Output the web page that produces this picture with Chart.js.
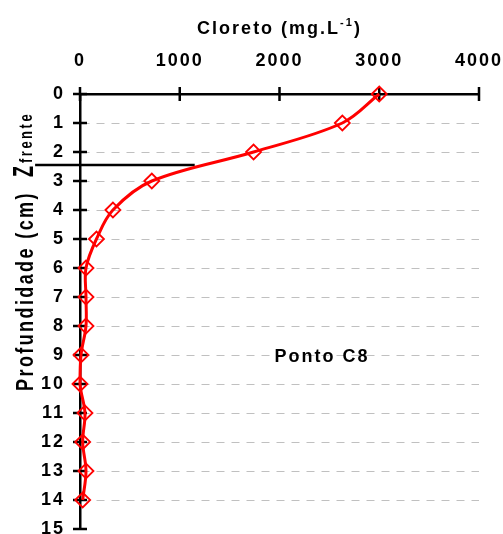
<!DOCTYPE html>
<html>
<head>
<meta charset="utf-8">
<script src="https://cdn.jsdelivr.net/npm/chart.js@4.4.1/dist/chart.umd.min.js"></script>
<style>
  html, body { margin: 0; padding: 0; background: #fff; }
  #chart { display: block; }
</style>
</head>
<body>
<canvas id="chart" width="503" height="534"></canvas>
<script>
// depth profile (cm) and chloride concentration (mg/L)
const depths = [0, 1, 2, 3, 4, 5, 6, 7, 8, 9, 10, 11, 12, 13, 14];
const chloride = [3000, 2630, 1740, 720, 330, 165, 60, 60, 60, 10, 0, 50, 27, 60, 27];

const xTickValues = [0, 1000, 2000, 3000, 4000];
const yTickValues = [0, 1, 2, 3, 4, 5, 6, 7, 8, 9, 10, 11, 12, 13, 14, 15];

// front position marker
const frontDepth = 2.45;
const frontSpan = [-450, 1150];

const stationLabel = "Ponto C8";
const stationAt = [1950, 9];

const FONT = '"Liberation Sans", Arial, sans-serif';
const SPACING = "2px";
const AXIS_W = 2.5;

// draws the crossing tick marks and all the free text
const decorations = {
  id: "decorations",
  beforeDraw(chart) {
    chart.ctx.letterSpacing = SPACING;
  },
  beforeDatasetsDraw(chart) {
    const { ctx, scales: { x, y } } = chart;
    ctx.save();
    ctx.strokeStyle = "#000";
    ctx.lineWidth = AXIS_W;
    ctx.beginPath();
    xTickValues.forEach(v => {
      const px = x.getPixelForValue(v);
      ctx.moveTo(px, y.top - 7);
      ctx.lineTo(px, y.top + 7);
    });
    yTickValues.forEach(v => {
      const py = y.getPixelForValue(v);
      ctx.moveTo(x.left - 7, py);
      ctx.lineTo(x.left + 7, py);
    });
    ctx.stroke();
    ctx.restore();
  },
  afterDraw(chart) {
    const { ctx, chartArea, scales: { x, y } } = chart;
    ctx.save();
    ctx.fillStyle = "#000";
    ctx.letterSpacing = SPACING;
    ctx.textBaseline = "alphabetic";
    ctx.textAlign = "left";

    // title with superscript
    const main = "Cloreto (mg.L", sup = "-1", end = ")";
    ctx.font = "bold 18px " + FONT;
    const w1 = ctx.measureText(main).width;
    const w3 = ctx.measureText(end).width;
    ctx.font = "bold 11px " + FONT;
    const w2 = ctx.measureText(sup).width;
    let tx = (chartArea.left + chartArea.right) / 2 - (w1 + w2 + w3) / 2;
    ctx.font = "bold 18px " + FONT;
    ctx.fillText(main, tx, 34);
    ctx.font = "bold 11px " + FONT;
    ctx.fillText(sup, tx + w1, 26);
    ctx.font = "bold 18px " + FONT;
    ctx.fillText(end, tx + w1 + w2, 34);

    // station label
    ctx.font = "bold 18px " + FONT;
    ctx.textBaseline = "middle";
    ctx.fillText(stationLabel, x.getPixelForValue(stationAt[0]), y.getPixelForValue(stationAt[1]) + 2);

    // rotated axis title
    ctx.textBaseline = "alphabetic";
    ctx.save();
    ctx.translate(33, 291);
    ctx.rotate(-Math.PI / 2);
    ctx.scale(1, 1.3);
    ctx.textAlign = "center";
    ctx.font = "bold 18px " + FONT;
    ctx.letterSpacing = "2.4px";
    ctx.fillText("Profundidade (cm)", 0, 0);
    ctx.restore();

    // Z with subscript "frente"
    ctx.save();
    ctx.translate(33, 177);
    ctx.rotate(-Math.PI / 2);
    ctx.save();
    ctx.scale(1, 1.6);
    ctx.font = "bold 18px " + FONT;
    ctx.letterSpacing = "0px";
    ctx.fillText("Z", 0, 0);
    const zw = ctx.measureText("Z").width;
    ctx.restore();
    ctx.scale(1, 1.35);
    ctx.font = "bold 13px " + FONT;
    ctx.letterSpacing = "2.5px";
    ctx.fillText("frente", zw + 3, -1);
    ctx.restore();

    ctx.restore();
  }
};

const tickFont = { family: FONT, size: 18, weight: "bold" };

new Chart(document.getElementById("chart"), {
  type: "scatter",
  data: {
    datasets: [
      {
        label: "Cloreto",
        data: depths.map((d, i) => ({ x: chloride[i], y: d })),
        showLine: true,
        borderColor: "#ff0000",
        borderWidth: 3,
        tension: 0.35,
        pointStyle: "rectRot",
        pointRadius: 7.5,
        pointBorderWidth: 1.8,
        pointBorderColor: "#ff0000",
        pointBackgroundColor: "rgba(0,0,0,0)",
        clip: false
      },
      {
        label: "Zfrente",
        data: frontSpan.map(v => ({ x: v, y: frontDepth })),
        showLine: true,
        borderColor: "#000",
        borderWidth: 2.5,
        pointRadius: 0,
        clip: false
      }
    ]
  },
  options: {
    responsive: false,
    animation: false,
    layout: { autoPadding: false, padding: { left: 0, top: 0, right: 24, bottom: 5 } },
    plugins: { legend: { display: false }, tooltip: { enabled: false }, title: { display: false } },
    scales: {
      x: {
        type: "linear",
        position: "top",
        min: 0,
        max: 4000,
        afterBuildTicks: s => { s.ticks = xTickValues.map(v => ({ value: v })); },
        afterFit: s => {
          s.height = 94;
          s.paddingLeft = s.paddingRight = 0;
        },
        ticks: { color: "#000", font: tickFont, padding: 22, maxRotation: 0, callback: v => String(v) },
        grid: { drawOnChartArea: false, drawTicks: false },
        border: { color: "#000", width: AXIS_W }
      },
      y: {
        type: "linear",
        reverse: true,
        min: 0,
        max: 15,
        afterBuildTicks: s => { s.ticks = yTickValues.map(v => ({ value: v })); },
        afterFit: s => {
          s.width = 80;
          s.paddingTop = s.paddingBottom = 0;
        },
        ticks: { color: "#000", font: tickFont, padding: 15, callback: v => String(v) },
        grid: {
          drawTicks: false,
          lineWidth: 1,
          color: c => (c.tick && (c.tick.value === 0 || c.tick.value === 15)) ? "rgba(0,0,0,0)" : "#c0c0c0"
        },
        border: { color: "#000", width: AXIS_W, dash: [8, 7] }
      }
    }
  },
  plugins: [decorations]
});
</script>
</body>
</html>
